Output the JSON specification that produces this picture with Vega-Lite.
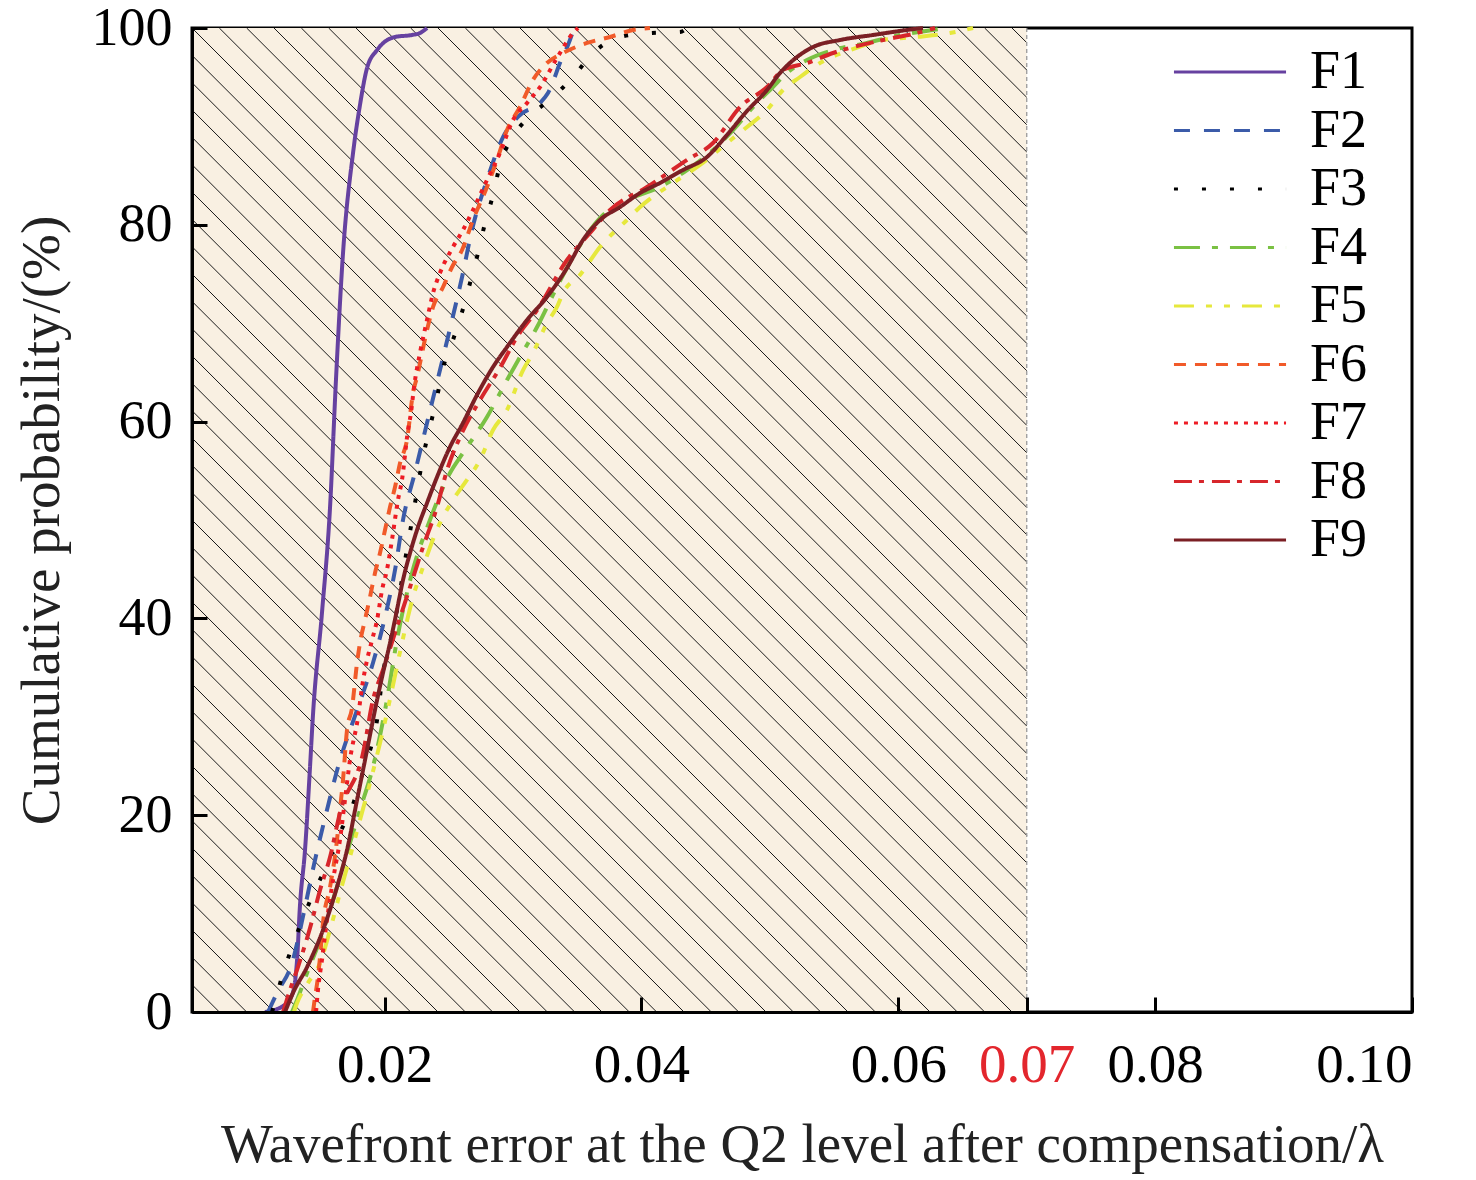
{
"$schema": "https://vega.github.io/schema/vega-lite/v6.json",
"width": 1220, "height": 984,
"autosize": {"type": "none"},
"padding": {"left": 192, "top": 28, "right": 64, "bottom": 168},
"background": "white",
"config": {
  "font": "Liberation Serif",
  "view": {"stroke": "black", "strokeWidth": 3},
  "axis": {"domainColor": "black", "domainWidth": 3, "tickColor": "black", "tickWidth": 3, "grid": false, "labelFont": "Liberation Serif", "titleFont": "Liberation Serif", "labelFontSize": 55, "titleFontSize": 55, "titleFontWeight": "normal", "labelColor": "black", "titleColor": "#222"}
},
"datasets": {
  "region": [{"x1": 0.005, "x2": 0.07, "y1": 0, "y2": 100}],
  "hatch": [
    {"hx1":0.005,"hy1":2.78,"hx2":0.007128,"hy2":0},
    {"hx1":0.005,"hy1":5.56,"hx2":0.009257,"hy2":0},
    {"hx1":0.005,"hy1":8.33,"hx2":0.011385,"hy2":0},
    {"hx1":0.005,"hy1":11.11,"hx2":0.013514,"hy2":0},
    {"hx1":0.005,"hy1":13.89,"hx2":0.015642,"hy2":0},
    {"hx1":0.005,"hy1":16.67,"hx2":0.01777,"hy2":0},
    {"hx1":0.005,"hy1":19.44,"hx2":0.019899,"hy2":0},
    {"hx1":0.005,"hy1":22.22,"hx2":0.022027,"hy2":0},
    {"hx1":0.005,"hy1":25.0,"hx2":0.024156,"hy2":0},
    {"hx1":0.005,"hy1":27.78,"hx2":0.026284,"hy2":0},
    {"hx1":0.005,"hy1":30.56,"hx2":0.028412,"hy2":0},
    {"hx1":0.005,"hy1":33.33,"hx2":0.030541,"hy2":0},
    {"hx1":0.005,"hy1":36.11,"hx2":0.032669,"hy2":0},
    {"hx1":0.005,"hy1":38.89,"hx2":0.034798,"hy2":0},
    {"hx1":0.005,"hy1":41.67,"hx2":0.036926,"hy2":0},
    {"hx1":0.005,"hy1":44.44,"hx2":0.039054,"hy2":0},
    {"hx1":0.005,"hy1":47.22,"hx2":0.041183,"hy2":0},
    {"hx1":0.005,"hy1":50.0,"hx2":0.043311,"hy2":0},
    {"hx1":0.005,"hy1":52.78,"hx2":0.04544,"hy2":0},
    {"hx1":0.005,"hy1":55.56,"hx2":0.047568,"hy2":0},
    {"hx1":0.005,"hy1":58.33,"hx2":0.049696,"hy2":0},
    {"hx1":0.005,"hy1":61.11,"hx2":0.051825,"hy2":0},
    {"hx1":0.005,"hy1":63.89,"hx2":0.053953,"hy2":0},
    {"hx1":0.005,"hy1":66.67,"hx2":0.056082,"hy2":0},
    {"hx1":0.005,"hy1":69.44,"hx2":0.05821,"hy2":0},
    {"hx1":0.005,"hy1":72.22,"hx2":0.060338,"hy2":0},
    {"hx1":0.005,"hy1":75.0,"hx2":0.062467,"hy2":0},
    {"hx1":0.005,"hy1":77.78,"hx2":0.064595,"hy2":0},
    {"hx1":0.005,"hy1":80.56,"hx2":0.066724,"hy2":0},
    {"hx1":0.005,"hy1":83.33,"hx2":0.068852,"hy2":0},
    {"hx1":0.005,"hy1":86.11,"hx2":0.07,"hy2":1.28},
    {"hx1":0.005,"hy1":88.89,"hx2":0.07,"hy2":4.06},
    {"hx1":0.005,"hy1":91.67,"hx2":0.07,"hy2":6.84},
    {"hx1":0.005,"hy1":94.44,"hx2":0.07,"hy2":9.61},
    {"hx1":0.005,"hy1":97.22,"hx2":0.07,"hy2":12.39},
    {"hx1":0.005,"hy1":100,"hx2":0.07,"hy2":15.17},
    {"hx1":0.007128,"hy1":100,"hx2":0.07,"hy2":17.95},
    {"hx1":0.009257,"hy1":100,"hx2":0.07,"hy2":20.73},
    {"hx1":0.011385,"hy1":100,"hx2":0.07,"hy2":23.51},
    {"hx1":0.013514,"hy1":100,"hx2":0.07,"hy2":26.28},
    {"hx1":0.015642,"hy1":100,"hx2":0.07,"hy2":29.06},
    {"hx1":0.01777,"hy1":100,"hx2":0.07,"hy2":31.84},
    {"hx1":0.019899,"hy1":100,"hx2":0.07,"hy2":34.62},
    {"hx1":0.022027,"hy1":100,"hx2":0.07,"hy2":37.39},
    {"hx1":0.024156,"hy1":100,"hx2":0.07,"hy2":40.17},
    {"hx1":0.026284,"hy1":100,"hx2":0.07,"hy2":42.95},
    {"hx1":0.028412,"hy1":100,"hx2":0.07,"hy2":45.73},
    {"hx1":0.030541,"hy1":100,"hx2":0.07,"hy2":48.51},
    {"hx1":0.032669,"hy1":100,"hx2":0.07,"hy2":51.28},
    {"hx1":0.034798,"hy1":100,"hx2":0.07,"hy2":54.06},
    {"hx1":0.036926,"hy1":100,"hx2":0.07,"hy2":56.84},
    {"hx1":0.039054,"hy1":100,"hx2":0.07,"hy2":59.62},
    {"hx1":0.041183,"hy1":100,"hx2":0.07,"hy2":62.4},
    {"hx1":0.043311,"hy1":100,"hx2":0.07,"hy2":65.17},
    {"hx1":0.04544,"hy1":100,"hx2":0.07,"hy2":67.95},
    {"hx1":0.047568,"hy1":100,"hx2":0.07,"hy2":70.73},
    {"hx1":0.049696,"hy1":100,"hx2":0.07,"hy2":73.51},
    {"hx1":0.051825,"hy1":100,"hx2":0.07,"hy2":76.28},
    {"hx1":0.053953,"hy1":100,"hx2":0.07,"hy2":79.06},
    {"hx1":0.056082,"hy1":100,"hx2":0.07,"hy2":81.84},
    {"hx1":0.05821,"hy1":100,"hx2":0.07,"hy2":84.62},
    {"hx1":0.060338,"hy1":100,"hx2":0.07,"hy2":87.4},
    {"hx1":0.062467,"hy1":100,"hx2":0.07,"hy2":90.17},
    {"hx1":0.064595,"hy1":100,"hx2":0.07,"hy2":92.95},
    {"hx1":0.066724,"hy1":100,"hx2":0.07,"hy2":95.73},
    {"hx1":0.068852,"hy1":100,"hx2":0.07,"hy2":98.51}
  ],
  "curves": [
    {"series":"F1","x":0.01068,"y":0},{"series":"F1","x":0.01209,"y":0.61},{"series":"F1","x":0.01279,"y":1.73},{"series":"F1","x":0.01318,"y":5.28},{"series":"F1","x":0.01341,"y":10.87},{"series":"F1","x":0.0138,"y":16.46},{"series":"F1","x":0.01419,"y":24.9},{"series":"F1","x":0.01442,"y":30.18},{"series":"F1","x":0.01512,"y":40.55},{"series":"F1","x":0.01575,"y":51.32},{"series":"F1","x":0.01621,"y":64.23},{"series":"F1","x":0.01676,"y":77.13},{"series":"F1","x":0.01754,"y":87.3},{"series":"F1","x":0.01808,"y":92.17},{"series":"F1","x":0.01863,"y":95.93},{"series":"F1","x":0.01941,"y":97.76},{"series":"F1","x":0.02081,"y":99.09},{"series":"F1","x":0.02213,"y":99.29},{"series":"F1","x":0.02275,"y":99.49},{"series":"F1","x":0.0233,"y":100},
    {"series":"F2","x":0.01092,"y":0},{"series":"F2","x":0.01162,"y":1.93},{"series":"F2","x":0.01279,"y":4.98},{"series":"F2","x":0.0138,"y":10.67},{"series":"F2","x":0.01458,"y":15.45},{"series":"F2","x":0.01551,"y":20.53},{"series":"F2","x":0.01637,"y":24.9},{"series":"F2","x":0.01785,"y":30.69},{"series":"F2","x":0.01909,"y":35.47},{"series":"F2","x":0.02003,"y":40.14},{"series":"F2","x":0.02081,"y":44.92},{"series":"F2","x":0.02143,"y":50},{"series":"F2","x":0.02237,"y":54.88},{"series":"F2","x":0.0233,"y":59.86},{"series":"F2","x":0.02431,"y":65.24},{"series":"F2","x":0.02525,"y":70.33},{"series":"F2","x":0.02603,"y":74.7},{"series":"F2","x":0.0268,"y":79.47},{"series":"F2","x":0.02797,"y":84.55},{"series":"F2","x":0.02922,"y":88.92},{"series":"F2","x":0.03054,"y":91.16},{"series":"F2","x":0.0321,"y":92.38},{"series":"F2","x":0.03272,"y":93.39},{"series":"F2","x":0.03381,"y":96.95},{"series":"F2","x":0.03428,"y":98.27},{"series":"F2","x":0.03475,"y":100},
    {"series":"F3","x":0.01123,"y":0},{"series":"F3","x":0.01146,"y":1.02},{"series":"F3","x":0.01209,"y":3.96},{"series":"F3","x":0.01286,"y":6.81},{"series":"F3","x":0.01364,"y":9.55},{"series":"F3","x":0.01458,"y":12.4},{"series":"F3","x":0.01559,"y":15.14},{"series":"F3","x":0.01652,"y":18.19},{"series":"F3","x":0.01746,"y":20.83},{"series":"F3","x":0.01847,"y":25.1},{"series":"F3","x":0.01941,"y":29.67},{"series":"F3","x":0.01987,"y":34.45},{"series":"F3","x":0.02042,"y":37.5},{"series":"F3","x":0.02096,"y":40.85},{"series":"F3","x":0.02143,"y":44.61},{"series":"F3","x":0.02182,"y":47.66},{"series":"F3","x":0.02221,"y":50.51},{"series":"F3","x":0.0226,"y":53.56},{"series":"F3","x":0.02299,"y":56.4},{"series":"F3","x":0.02353,"y":59.45},{"series":"F3","x":0.02408,"y":62.5},{"series":"F3","x":0.02455,"y":65.45},{"series":"F3","x":0.02532,"y":68.29},{"series":"F3","x":0.02603,"y":71.14},{"series":"F3","x":0.02665,"y":74.09},{"series":"F3","x":0.02727,"y":77.13},{"series":"F3","x":0.02782,"y":80.18},{"series":"F3","x":0.02844,"y":83.03},{"series":"F3","x":0.02898,"y":86.08},{"series":"F3","x":0.02992,"y":88.82},{"series":"F3","x":0.03124,"y":90.96},{"series":"F3","x":0.03303,"y":92.89},{"series":"F3","x":0.03467,"y":95.02},{"series":"F3","x":0.03623,"y":97.46},{"series":"F3","x":0.03833,"y":99.09},{"series":"F3","x":0.04066,"y":99.49},{"series":"F3","x":0.043,"y":99.59},{"series":"F3","x":0.04355,"y":100},
    {"series":"F4","x":0.01279,"y":0},{"series":"F4","x":0.01318,"y":1.22},{"series":"F4","x":0.01396,"y":3.96},{"series":"F4","x":0.01497,"y":7.32},{"series":"F4","x":0.01629,"y":12.7},{"series":"F4","x":0.0173,"y":17.17},{"series":"F4","x":0.01808,"y":20.53},{"series":"F4","x":0.01909,"y":24.9},{"series":"F4","x":0.02018,"y":31.71},{"series":"F4","x":0.02096,"y":37.8},{"series":"F4","x":0.02213,"y":44.61},{"series":"F4","x":0.02353,"y":50},{"series":"F4","x":0.02509,"y":54.78},{"series":"F4","x":0.0261,"y":56.81},{"series":"F4","x":0.02797,"y":60.47},{"series":"F4","x":0.02953,"y":64.23},{"series":"F4","x":0.03054,"y":66.57},{"series":"F4","x":0.03187,"y":69.61},{"series":"F4","x":0.03311,"y":72.87},{"series":"F4","x":0.03498,"y":77.44},{"series":"F4","x":0.03677,"y":80.69},{"series":"F4","x":0.03887,"y":82.52},{"series":"F4","x":0.04144,"y":83.84},{"series":"F4","x":0.04355,"y":85.57},{"series":"F4","x":0.04557,"y":87.6},{"series":"F4","x":0.04713,"y":89.63},{"series":"F4","x":0.04869,"y":91.97},{"series":"F4","x":0.05024,"y":94},{"series":"F4","x":0.05133,"y":95.43},{"series":"F4","x":0.05289,"y":96.75},{"series":"F4","x":0.05492,"y":97.76},{"series":"F4","x":0.05756,"y":98.48},{"series":"F4","x":0.06013,"y":99.29},{"series":"F4","x":0.0627,"y":99.8},{"series":"F4","x":0.06364,"y":100},
    {"series":"F5","x":0.01294,"y":0},{"series":"F5","x":0.01318,"y":0.91},{"series":"F5","x":0.01403,"y":2.95},{"series":"F5","x":0.01497,"y":4.98},{"series":"F5","x":0.01575,"y":8.33},{"series":"F5","x":0.01652,"y":12.09},{"series":"F5","x":0.0173,"y":15.75},{"series":"F5","x":0.01808,"y":19.51},{"series":"F5","x":0.01886,"y":23.27},{"series":"F5","x":0.01964,"y":27.34},{"series":"F5","x":0.02018,"y":30.39},{"series":"F5","x":0.02057,"y":32.72},{"series":"F5","x":0.02135,"y":37.5},{"series":"F5","x":0.02221,"y":42.17},{"series":"F5","x":0.02299,"y":45.22},{"series":"F5","x":0.02416,"y":49.29},{"series":"F5","x":0.02532,"y":52.03},{"series":"F5","x":0.02641,"y":54.07},{"series":"F5","x":0.02743,"y":56.1},{"series":"F5","x":0.02844,"y":59.15},{"series":"F5","x":0.02953,"y":61.18},{"series":"F5","x":0.03078,"y":65.24},{"series":"F5","x":0.03155,"y":66.97},{"series":"F5","x":0.03264,"y":70.02},{"series":"F5","x":0.03342,"y":71.65},{"series":"F5","x":0.03389,"y":73.07},{"series":"F5","x":0.03521,"y":74.9},{"series":"F5","x":0.03677,"y":77.74},{"series":"F5","x":0.03887,"y":80.49},{"series":"F5","x":0.03989,"y":81.81},{"series":"F5","x":0.04246,"y":84.25},{"series":"F5","x":0.04456,"y":86.08},{"series":"F5","x":0.04666,"y":88.31},{"series":"F5","x":0.04822,"y":89.94},{"series":"F5","x":0.04978,"y":91.67},{"series":"F5","x":0.05102,"y":93.7},{"series":"F5","x":0.05235,"y":95.02},{"series":"F5","x":0.0539,"y":96.44},{"series":"F5","x":0.05624,"y":97.76},{"series":"F5","x":0.05881,"y":98.78},{"series":"F5","x":0.06146,"y":99.09},{"series":"F5","x":0.06403,"y":99.49},{"series":"F5","x":0.06582,"y":100},
    {"series":"F6","x":0.01442,"y":0},{"series":"F6","x":0.01458,"y":1.52},{"series":"F6","x":0.01481,"y":3.56},{"series":"F6","x":0.01497,"y":5.59},{"series":"F6","x":0.0152,"y":9.04},{"series":"F6","x":0.01575,"y":12.7},{"series":"F6","x":0.01629,"y":17.48},{"series":"F6","x":0.01652,"y":20.53},{"series":"F6","x":0.01676,"y":23.58},{"series":"F6","x":0.01707,"y":28.66},{"series":"F6","x":0.01746,"y":30.89},{"series":"F6","x":0.01785,"y":35.47},{"series":"F6","x":0.01808,"y":37.5},{"series":"F6","x":0.01847,"y":39.84},{"series":"F6","x":0.01886,"y":42.17},{"series":"F6","x":0.01925,"y":44.61},{"series":"F6","x":0.01964,"y":46.65},{"series":"F6","x":0.02003,"y":48.98},{"series":"F6","x":0.02042,"y":51.32},{"series":"F6","x":0.02081,"y":53.35},{"series":"F6","x":0.0212,"y":55.79},{"series":"F6","x":0.02174,"y":58.13},{"series":"F6","x":0.02221,"y":62.91},{"series":"F6","x":0.02252,"y":64.53},{"series":"F6","x":0.0233,"y":69.31},{"series":"F6","x":0.02377,"y":71.65},{"series":"F6","x":0.02455,"y":73.68},{"series":"F6","x":0.02525,"y":75.71},{"series":"F6","x":0.02603,"y":77.44},{"series":"F6","x":0.02688,"y":80.49},{"series":"F6","x":0.02797,"y":83.84},{"series":"F6","x":0.02875,"y":86.59},{"series":"F6","x":0.02953,"y":89.63},{"series":"F6","x":0.03054,"y":91.97},{"series":"F6","x":0.03155,"y":94.72},{"series":"F6","x":0.03264,"y":96.44},{"series":"F6","x":0.03389,"y":97.46},{"series":"F6","x":0.03576,"y":98.48},{"series":"F6","x":0.03755,"y":99.09},{"series":"F6","x":0.03934,"y":99.8},{"series":"F6","x":0.04066,"y":100},
    {"series":"F7","x":0.01466,"y":0},{"series":"F7","x":0.01481,"y":2.24},{"series":"F7","x":0.01512,"y":5.28},{"series":"F7","x":0.01551,"y":9.35},{"series":"F7","x":0.01598,"y":13.41},{"series":"F7","x":0.01652,"y":17.48},{"series":"F7","x":0.01691,"y":21.54},{"series":"F7","x":0.0173,"y":25.61},{"series":"F7","x":0.01793,"y":29.98},{"series":"F7","x":0.01824,"y":33.03},{"series":"F7","x":0.01863,"y":35.77},{"series":"F7","x":0.01902,"y":37.8},{"series":"F7","x":0.01941,"y":39.84},{"series":"F7","x":0.0198,"y":42.89},{"series":"F7","x":0.02018,"y":44.92},{"series":"F7","x":0.02057,"y":47.97},{"series":"F7","x":0.02104,"y":52.03},{"series":"F7","x":0.02135,"y":54.07},{"series":"F7","x":0.02182,"y":59.15},{"series":"F7","x":0.02205,"y":60.87},{"series":"F7","x":0.02229,"y":63.52},{"series":"F7","x":0.02275,"y":66.97},{"series":"F7","x":0.0233,"y":70.33},{"series":"F7","x":0.02377,"y":73.07},{"series":"F7","x":0.02431,"y":75.1},{"series":"F7","x":0.02532,"y":77.74},{"series":"F7","x":0.0261,"y":79.47},{"series":"F7","x":0.02688,"y":81.5},{"series":"F7","x":0.02797,"y":84.55},{"series":"F7","x":0.02898,"y":87.3},{"series":"F7","x":0.03,"y":90.65},{"series":"F7","x":0.03109,"y":92.38},{"series":"F7","x":0.0321,"y":94},{"series":"F7","x":0.03342,"y":96.95},{"series":"F7","x":0.03467,"y":99.49},{"series":"F7","x":0.03506,"y":100},
    {"series":"F8","x":0.01209,"y":0},{"series":"F8","x":0.01263,"y":2.24},{"series":"F8","x":0.01325,"y":4.57},{"series":"F8","x":0.01419,"y":8.54},{"series":"F8","x":0.01497,"y":12.4},{"series":"F8","x":0.01575,"y":15.75},{"series":"F8","x":0.01652,"y":20.22},{"series":"F8","x":0.01832,"y":26.32},{"series":"F8","x":0.01909,"y":31.71},{"series":"F8","x":0.01987,"y":34.76},{"series":"F8","x":0.02096,"y":39.13},{"series":"F8","x":0.02198,"y":43.19},{"series":"F8","x":0.02299,"y":47.26},{"series":"F8","x":0.02408,"y":51.32},{"series":"F8","x":0.02486,"y":55.08},{"series":"F8","x":0.02587,"y":58.43},{"series":"F8","x":0.02743,"y":62.2},{"series":"F8","x":0.02898,"y":65.45},{"series":"F8","x":0.03031,"y":68.6},{"series":"F8","x":0.03187,"y":71.34},{"series":"F8","x":0.0342,"y":76.42},{"series":"F8","x":0.03599,"y":79.17},{"series":"F8","x":0.03755,"y":81.5},{"series":"F8","x":0.04043,"y":83.84},{"series":"F8","x":0.04355,"y":86.59},{"series":"F8","x":0.04557,"y":88.31},{"series":"F8","x":0.04767,"y":91.97},{"series":"F8","x":0.04978,"y":94},{"series":"F8","x":0.05102,"y":95.73},{"series":"F8","x":0.05289,"y":96.44},{"series":"F8","x":0.05492,"y":97.46},{"series":"F8","x":0.05881,"y":98.78},{"series":"F8","x":0.06146,"y":99.49},{"series":"F8","x":0.06286,"y":100},
    {"series":"F9","x":0.01224,"y":0},{"series":"F9","x":0.0124,"y":0.51},{"series":"F9","x":0.01286,"y":1.93},{"series":"F9","x":0.01396,"y":4.57},{"series":"F9","x":0.0152,"y":8.33},{"series":"F9","x":0.01629,"y":12.7},{"series":"F9","x":0.01707,"y":16.46},{"series":"F9","x":0.01785,"y":21.54},{"series":"F9","x":0.01863,"y":26.63},{"series":"F9","x":0.01941,"y":31.71},{"series":"F9","x":0.01987,"y":34.45},{"series":"F9","x":0.02042,"y":37.5},{"series":"F9","x":0.02096,"y":40.85},{"series":"F9","x":0.02143,"y":43.9},{"series":"F9","x":0.02198,"y":46.65},{"series":"F9","x":0.0226,"y":49.29},{"series":"F9","x":0.0233,"y":51.73},{"series":"F9","x":0.02408,"y":54.37},{"series":"F9","x":0.02509,"y":57.42},{"series":"F9","x":0.0261,"y":59.86},{"series":"F9","x":0.02719,"y":62.7},{"series":"F9","x":0.02844,"y":65.55},{"series":"F9","x":0.02953,"y":67.58},{"series":"F9","x":0.03109,"y":70.33},{"series":"F9","x":0.03264,"y":72.66},{"series":"F9","x":0.0342,"y":75.61},{"series":"F9","x":0.03545,"y":78.46},{"series":"F9","x":0.03677,"y":80.49},{"series":"F9","x":0.03833,"y":81.81},{"series":"F9","x":0.03989,"y":83.23},{"series":"F9","x":0.04144,"y":84.25},{"series":"F9","x":0.04323,"y":85.57},{"series":"F9","x":0.0451,"y":86.89},{"series":"F9","x":0.04666,"y":89.13},{"series":"F9","x":0.04822,"y":91.57},{"series":"F9","x":0.04978,"y":93.7},{"series":"F9","x":0.05079,"y":95.43},{"series":"F9","x":0.05211,"y":97.05},{"series":"F9","x":0.05336,"y":98.07},{"series":"F9","x":0.05546,"y":98.78},{"series":"F9","x":0.05803,"y":99.29},{"series":"F9","x":0.06068,"y":99.8},{"series":"F9","x":0.06192,"y":100}
  ]
},
"layer": [
  {"data": {"name": "region"},
   "mark": {"type": "rect", "fill": "#f9f0e2"},
   "encoding": {
     "x": {"field": "x1", "type": "quantitative", "title": "Wavefront error at the Q2 level after compensation/λ",
           "scale": {"domain": [0.005, 0.1], "nice": false, "zero": false},
           "axis": {"values": [0.02, 0.04, 0.06, 0.07, 0.08, 0.1], "format": ".2f", "tickSize": -15, "labelPadding": 41, "titlePadding": 26, "zindex": 3,
                    "labelColor": {"condition": {"test": "abs(datum.value - 0.07) < 0.0001", "value": "#e3262d"}, "value": "black"}}},
     "x2": {"field": "x2"},
     "y": {"field": "y1", "type": "quantitative", "title": "Cumulative probability/(%)",
           "scale": {"domain": [0, 100], "nice": false},
           "axis": {"values": [0, 20, 40, 60, 80, 100], "tickSize": -15, "labelPadding": 35, "titlePadding": 21, "labelFontSize": 54, "zindex": 3}},
     "y2": {"field": "y2"}
   }},
  {"data": {"name": "hatch"},
   "mark": {"type": "rule", "color": "#1a1a1a", "strokeWidth": 1},
   "encoding": {
     "x": {"field": "hx1", "type": "quantitative", "title": "Wavefront error at the Q2 level after compensation/λ"},
     "y": {"field": "hy1", "type": "quantitative", "title": "Cumulative probability/(%)"},
     "x2": {"field": "hx2"},
     "y2": {"field": "hy2"}
   }},
  {"data": {"name": "region"},
   "mark": {"type": "rule", "color": "#9a9a9a", "strokeDash": [4, 3], "strokeWidth": 1.3},
   "encoding": {
     "x": {"field": "x2", "type": "quantitative", "title": "Wavefront error at the Q2 level after compensation/λ"},
     "y": {"field": "y1", "type": "quantitative", "title": "Cumulative probability/(%)"},
     "y2": {"field": "y2"}
   }},
  {"data": {"name": "curves"},
   "mark": {"type": "line", "strokeWidth": 4, "interpolate": "monotone"},
   "encoding": {
     "x": {"field": "x", "type": "quantitative", "title": "Wavefront error at the Q2 level after compensation/λ"},
     "y": {"field": "y", "type": "quantitative", "title": "Cumulative probability/(%)"},
     "order": {"field": "y", "type": "quantitative"},
     "color": {"field": "series", "type": "nominal",
       "scale": {"domain": ["F1","F2","F3","F4","F5","F6","F7","F8","F9"],
                 "range": ["#6641a0","#3b5ba9","#000000","#7ac143","#e6e83c","#f15a29","#ed1c24","#d7262b","#7b1f24"]},
       "legend": {"title": null, "orient": "none", "legendX": 1011, "legendY": 17, "padding": 0,
                  "symbolType": "M-4.67,0L4.67,0", "symbolSize": 576, "symbolStrokeWidth": 3,
                  "labelFont": "Liberation Serif", "labelFontSize": 54, "labelColor": "black", "labelOffset": 53, "rowPadding": 4.5}},
     "strokeDash": {"field": "series", "type": "nominal",
       "scale": {"domain": ["F1","F2","F3","F4","F5","F6","F7","F8","F9"],
                 "range": [[1,0],[16,14],[4,24],[26,12,6,12],[20,12,6,12,6,12],[12,9],[4,6],[18,7,5,8],[1,0]]},
       "legend": {"title": null, "orient": "none", "legendX": 1011, "legendY": 17, "padding": 0,
                  "symbolType": "M-4.67,0L4.67,0", "symbolSize": 576, "symbolStrokeWidth": 3,
                  "labelFont": "Liberation Serif", "labelFontSize": 54, "labelColor": "black", "labelOffset": 53, "rowPadding": 4.5}}
   }}
]
}
